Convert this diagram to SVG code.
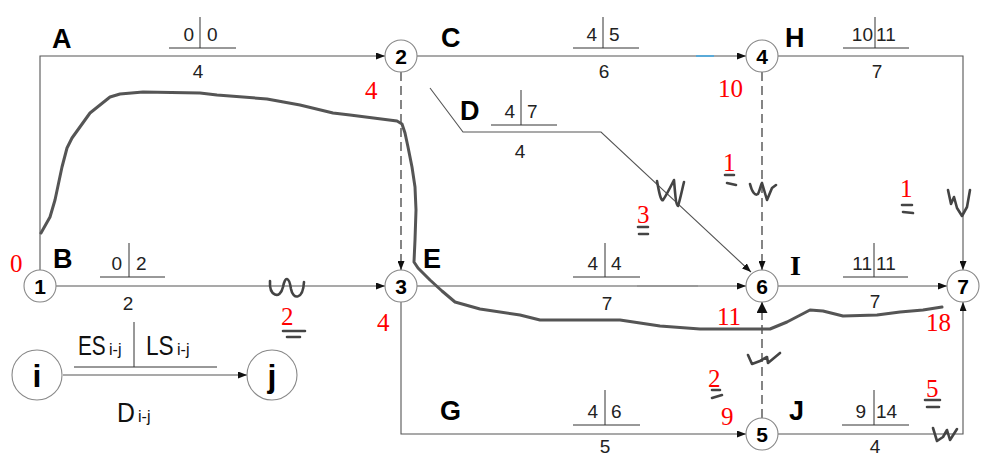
<svg xmlns="http://www.w3.org/2000/svg" width="990" height="461" viewBox="0 0 990 461">
<defs>
<marker id="ah" markerUnits="userSpaceOnUse" markerWidth="9" markerHeight="7" refX="9" refY="3.5" orient="auto">
<path d="M0,0 L9,3.5 L0,7 z" fill="#111"/>
</marker>
<marker id="ahb" markerUnits="userSpaceOnUse" markerWidth="12" markerHeight="11" refX="11" refY="5.5" orient="auto">
<path d="M0,0 L11,5.5 L0,11 z" fill="#111"/>
</marker>
</defs>
<style>
.ln{fill:none;stroke:#555;stroke-width:1.1}
.dl{fill:none;stroke:#222;stroke-width:1.1;stroke-dasharray:9,5}
.tb{fill:none;stroke:#333;stroke-width:1}
.nd{fill:#fff;stroke:#888;stroke-width:1.1}
.nt{font-family:"Liberation Sans",Arial,sans-serif;font-weight:bold;font-size:21px;fill:#000;text-anchor:middle}
.lb{font-family:"Liberation Sans",Arial,sans-serif;font-weight:bold;font-size:27px;fill:#000}
.dg{font-family:"Liberation Sans",Arial,sans-serif;font-size:19px;fill:#222}
.rd{font-family:"Liberation Serif","Times New Roman",serif;font-size:25px;fill:#f00}
.hd{fill:none;stroke:#555;stroke-width:3;stroke-linejoin:round;stroke-linecap:round}
.mk{fill:none;stroke:#444;stroke-width:2.6;stroke-linecap:round;stroke-linejoin:round}
.lg{font-family:"Liberation Sans",Arial,sans-serif;fill:#111}
</style>
<rect width="990" height="461" fill="#fff"/>

<g id="connectors">
<path class="ln" d="M40,270 L40,56 L385,56" marker-end="url(#ah)"/>
<path class="ln" d="M417,56 L746,56" marker-end="url(#ah)"/>
<path d="M696,56 L714,56" stroke="#5aaad8" stroke-width="2"/>
<path class="ln" d="M778,56 L963,56 L963,270" marker-end="url(#ah)"/>
<path class="ln" d="M56,286 L385,286" marker-end="url(#ah)"/>
<path class="dl" d="M401,72 L401,270" marker-end="url(#ah)"/>
<path class="ln" d="M430,88 L463,132 L601,132 L751,272" marker-end="url(#ah)"/>
<path class="ln" d="M417,286 L746,286" marker-end="url(#ah)"/>
<path d="M637,286 L698,286" stroke="#999" stroke-width="2"/>
<path class="dl" d="M762,72 L762,270" marker-end="url(#ah)"/>
<path class="ln" d="M778,286 L947,286" marker-end="url(#ah)"/>
<path class="ln" d="M401,302 L401,434 L746,434" marker-end="url(#ah)"/>
<path class="dl" d="M762,418 L762,302" marker-end="url(#ahb)"/>
<path class="ln" d="M778,434 L963,434 L963,302" marker-end="url(#ah)"/>
<path class="ln" d="M63,375 L247,375" marker-end="url(#ah)"/>
</g>

<g id="activity-labels">
<text class="lb" x="52" y="48">A</text>
<line class="tb" x1="200" y1="17" x2="200" y2="48"/><line class="tb" x1="169" y1="48" x2="236" y2="48"/>
<text class="dg" x="194" y="41" text-anchor="end">0</text><text class="dg" x="207" y="41">0</text>
<text class="dg" x="198" y="78" text-anchor="middle">4</text>

<text class="lb" x="441" y="47">C</text>
<line class="tb" x1="603" y1="17" x2="603" y2="48"/><line class="tb" x1="573" y1="48" x2="639" y2="48"/>
<text class="dg" x="597" y="41" text-anchor="end">4</text><text class="dg" x="609" y="41">5</text>
<text class="dg" x="604" y="78" text-anchor="middle">6</text>

<text class="lb" x="785" y="47">H</text>
<line class="tb" x1="875" y1="17" x2="875" y2="48"/><line class="tb" x1="843" y1="48" x2="909" y2="48"/>
<text class="dg" x="873" y="41" text-anchor="end">10</text><text class="dg" x="876" y="41">11</text>
<text class="dg" x="877" y="78" text-anchor="middle">7</text>

<text class="lb" x="460" y="120">D</text>
<line class="tb" x1="521" y1="90" x2="521" y2="125"/><line class="tb" x1="491" y1="125" x2="557" y2="125"/>
<text class="dg" x="515" y="118" text-anchor="end">4</text><text class="dg" x="527" y="118">7</text>
<text class="dg" x="520" y="158" text-anchor="middle">4</text>

<text class="lb" x="53" y="268">B</text>
<line class="tb" x1="129" y1="243" x2="129" y2="277"/><line class="tb" x1="100" y1="277" x2="165" y2="277"/>
<text class="dg" x="122" y="270" text-anchor="end">0</text><text class="dg" x="136" y="270">2</text>
<text class="dg" x="128" y="310" text-anchor="middle">2</text>

<text class="lb" x="423" y="268">E</text>
<line class="tb" x1="605" y1="243" x2="605" y2="277"/><line class="tb" x1="573" y1="277" x2="640" y2="277"/>
<text class="dg" x="598" y="270" text-anchor="end">4</text><text class="dg" x="611" y="270">4</text>
<text class="dg" x="607" y="310" text-anchor="middle">7</text>

<text x="790" y="275" style="font-family:'Liberation Serif',serif;font-weight:bold;font-size:28px;fill:#000">I</text>
<line class="tb" x1="874" y1="243" x2="874" y2="277"/><line class="tb" x1="843" y1="277" x2="908" y2="277"/>
<text class="dg" x="872" y="270" text-anchor="end">11</text><text class="dg" x="876" y="270">11</text>
<text class="dg" x="875" y="308" text-anchor="middle">7</text>

<text class="lb" x="440" y="420">G</text>
<line class="tb" x1="605" y1="390" x2="605" y2="425"/><line class="tb" x1="573" y1="425" x2="640" y2="425"/>
<text class="dg" x="598" y="418" text-anchor="end">4</text><text class="dg" x="611" y="418">6</text>
<text class="dg" x="605" y="453" text-anchor="middle">5</text>

<text class="lb" x="789" y="420">J</text>
<line class="tb" x1="874" y1="390" x2="874" y2="425"/><line class="tb" x1="842" y1="425" x2="909" y2="425"/>
<text class="dg" x="866" y="418" text-anchor="end">9</text><text class="dg" x="876" y="418">14</text>
<text class="dg" x="875" y="453" text-anchor="middle">4</text>
</g>

<g id="node-1"><circle class="nd" cx="40" cy="286" r="16"/><text class="nt" x="40" y="293.5">1</text></g>
<g id="node-2"><circle class="nd" cx="401" cy="56" r="16"/><text class="nt" x="401" y="63.5">2</text></g>
<g id="node-3"><circle class="nd" cx="401" cy="286" r="16"/><text class="nt" x="401" y="293.5">3</text></g>
<g id="node-4"><circle class="nd" cx="762" cy="56" r="16"/><text class="nt" x="762" y="63.5">4</text></g>
<g id="node-5"><circle class="nd" cx="762" cy="434" r="16"/><text class="nt" x="762" y="441.5">5</text></g>
<g id="node-6"><circle class="nd" cx="762" cy="286" r="16"/><text class="nt" x="762" y="293.5">6</text></g>
<g id="node-7"><circle class="nd" cx="963" cy="286" r="16"/><text class="nt" x="963" y="293.5">7</text></g>

<g id="legend">
<g id="node-i"><circle class="nd" cx="37" cy="375" r="25"/><text class="nt" x="37" y="387" style="font-size:32px">i</text></g>
<g id="node-j"><circle class="nd" cx="272" cy="375" r="25"/><text class="nt" x="272" y="387" style="font-size:32px">j</text></g>
<line class="tb" x1="134" y1="322" x2="134" y2="367"/>
<line class="tb" x1="74" y1="367" x2="217" y2="367"/>
<text class="lg" transform="translate(78,355) scale(0.77,1)" font-size="27">ES</text>
<text class="lg" x="109" y="355" font-size="16">i-j</text>
<text class="lg" transform="translate(146,355) scale(0.84,1)" font-size="27">LS</text>
<text class="lg" x="177" y="355" font-size="16">i-j</text>
<text class="lg" transform="translate(117,422) scale(0.92,1)" font-size="27">D</text>
<text class="lg" x="138" y="422" font-size="16">i-j</text>
</g>

<g id="red-times">
<text class="rd" x="10" y="272">0</text>
<text class="rd" x="365" y="99">4</text>
<text class="rd" x="377" y="331">4</text>
<text class="rd" x="718" y="97">10</text>
<text class="rd" x="281" y="325">2</text>
<text class="rd" x="637" y="223">3</text>
<text class="rd" x="723" y="171">1</text>
<text class="rd" x="900" y="197">1</text>
<text class="rd" x="717" y="325">11</text>
<text class="rd" x="926" y="331">18</text>
<text class="rd" x="708" y="387">2</text>
<text class="rd" x="721" y="425">9</text>
<text class="rd" x="926" y="397">5</text>
</g>

<g id="hand-marks">
<path class="hd" d="M41,233 L50,217 L55,200 L62,167 L67,148 L72,138 L90,113 L110,97 L120,94 L143,92 L200,93 L217,95 L267,99 L300,105 L333,113 L350,115 L397,121 L402,124 L405,133 L408,147 L412,167 L415,187 L416,210 L415,240 L414,262 L418,268 L430,280 L442,291 L455,302 L480,309 L520,315 L540,320 L580,320 L620,320 L660,326 L700,329 L770,329 L787,322 L810,310 L823,311 L843,316 L877,315 L900,312 L923,310 L942,307"/>
<path class="mk" d="M270,281 C269,296 280,300 283,287 C285,276 289,276 291,289 C293,300 303,300 304,282"/>
<path class="mk" d="M657,181 C659,192 661,202 663,200 C666,196 669,190 674,180 C675,192 676,206 678,206 C680,200 682,190 684,182"/>
<path class="mk" d="M750,184 C752,192 755,196 758,194 C760,190 761,184 762,183 L767,200 L772,188 L776,185"/>
<path class="mk" d="M948,190 L951,204 L954,197 L957,208 L962,216 L967,207 L970,190"/>
<path class="mk" d="M748,355 L752,364 L760,361 L767,357 L768,363 L780,353"/>
<path class="mk" d="M933,428 L937,441 L943,437 L947,430 L950,440 L957,429"/>
<path class="mk" d="M283,331 L305,331 M287,337 L300,337"/>
<path class="mk" d="M638,227 L648,227 M639,234 L648,234"/>
<path class="mk" d="M725,175 L734,175 M727,183 L736,185"/>
<path class="mk" d="M902,205 L912,205 M903,212 L913,213"/>
<path class="mk" d="M712,390 L720,390 M712,398 L722,395"/>
<path class="mk" d="M925,400 L940,400 M927,407 L939,407"/>
</g>
</svg>
